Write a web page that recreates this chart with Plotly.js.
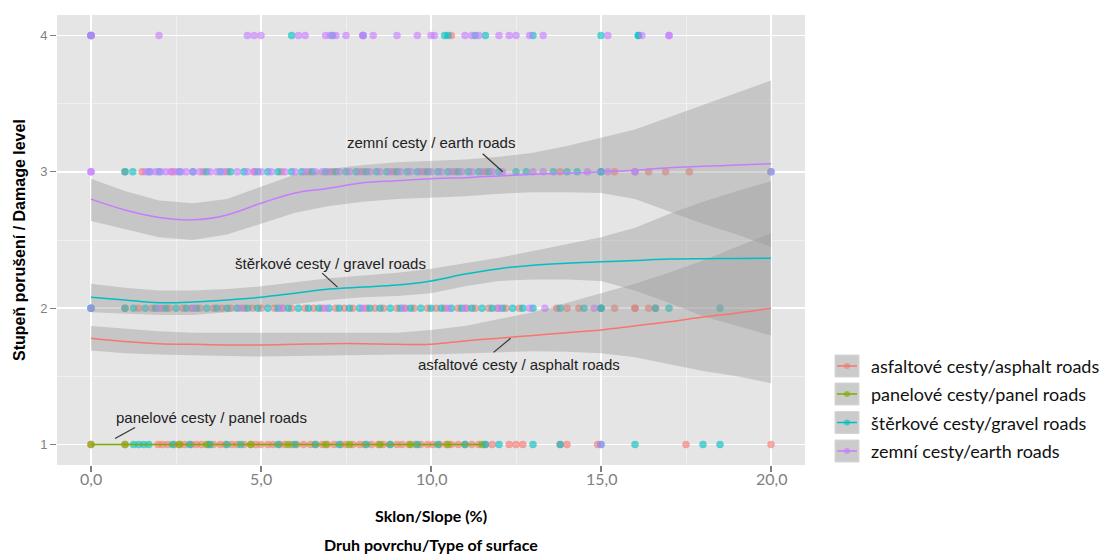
<!DOCTYPE html>
<html>
<head>
<meta charset="utf-8">
<script src="https://cdn.plot.ly/plotly-3.0.1.min.js"></script>
<style>html,body{margin:0;padding:0;background:#fff;}#chart{width:1102px;height:554px;}</style>
</head>
<body>
<div id="chart"></div>
<script>
// ---------- DATA ----------
var seriesNames = ["asfaltové cesty/asphalt roads", "panelové cesty/panel roads", "štěrkové cesty/gravel roads", "zemní cesty/earth roads"];
var seriesColors = ["#F8766D", "#7CAE00", "#00BFC4", "#C77CFF"];

var xTickVals = [0, 5, 10, 15, 20];
var xTickText = ["0,0", "5,0", "10,0", "15,0", "20,0"];
var yTickVals = [1, 2, 3, 4];
var yTickText = ["1", "2", "3", "4"];

// observed points: slope values (x) at each damage level
var asphaltL1 = [0, 1.0, 1.97, 2.1, 2.25, 2.45, 2.6, 2.75, 2.95, 3.1, 3.25, 3.45, 3.6, 3.8, 3.95, 4.15, 4.3, 4.5, 4.7, 4.85, 5.0, 5.2, 5.35, 5.55, 5.7, 5.9, 6.05, 6.25, 6.45, 6.6, 6.8, 6.95, 7.15, 7.35, 7.5, 7.7, 7.9, 8.05, 8.25, 8.45, 8.6, 8.8, 9.0, 9.15, 9.35, 9.55, 9.7, 9.9, 10.05, 10.25, 10.45, 10.6, 10.8, 11.0, 11.2, 11.4, 11.6, 11.8, 12.3, 12.5, 12.7, 13.8, 14.0, 14.9, 17.5, 20];
var asphaltL2 = [1.0, 1.4, 1.8, 2.1, 2.3, 2.7, 2.95, 3.2, 3.6, 3.85, 4.1, 4.5, 4.75, 5.0, 5.4, 5.65, 5.9, 6.3, 6.55, 6.8, 7.2, 7.45, 7.7, 8.1, 8.35, 8.6, 9.0, 9.25, 9.5, 9.9, 10.15, 10.4, 10.8, 11.05, 11.3, 11.7, 11.95, 12.2, 12.6, 13.7, 14.0, 14.35, 15.0, 15.4, 16.0, 16.0, 16.4, 16.6];
var asphaltL3 = [1.0, 1.5, 2.4, 3.3, 4.0, 4.8, 5.6, 6.4, 7.1, 8.0, 8.9, 9.8, 10.7, 11.6, 13.8, 15.4, 16.4, 16.9, 17.6];
var asphaltL4 = [10.6];

var panelL1 = [0, 1.0, 2.6, 3.4, 4.7, 5.8, 6.9, 7.6, 8.5, 9.4, 10.5, 11.5];

var gravelL1 = [1.25, 1.4, 1.55, 1.7, 2.4, 2.9, 3.5, 4.0, 4.4, 5.5, 6.0, 6.6, 7.3, 8.1, 8.8, 9.6, 10.2, 11.0, 11.6, 12.0, 13.0, 13.8, 15.0, 16.0, 18.0, 18.5];
var gravelL2 = [0, 0, 1.0, 1.25, 1.6, 1.9, 2.2, 2.5, 2.8, 3.1, 3.4, 3.7, 4.0, 4.3, 4.6, 4.9, 5.2, 5.5, 5.8, 6.1, 6.4, 6.7, 7.0, 7.3, 7.6, 7.9, 8.2, 8.5, 8.8, 9.1, 9.4, 9.7, 10.0, 10.3, 10.6, 10.9, 11.2, 11.5, 11.8, 12.1, 12.4, 12.7, 13.0, 13.8, 14.5, 15.0, 15.0, 16.6, 17.0, 18.5];
var gravelL3 = [1.0, 1.23, 1.7, 2.0, 2.6, 3.0, 3.4, 3.8, 4.1, 4.5, 4.9, 5.2, 5.5, 5.9, 6.2, 6.5, 6.9, 7.2, 7.5, 7.8, 8.1, 8.4, 8.7, 9.0, 9.3, 9.6, 9.9, 10.2, 10.5, 10.8, 11.1, 11.4, 11.7, 12.0, 12.5, 12.8, 13.6, 14.0, 14.3, 15.0, 15.0, 20];
var gravelL4 = [0, 0, 5.9, 7.1, 8.0, 10.4, 10.5, 11.3, 11.6, 13.0, 15.0, 16.1, 16.1];

var earthL1 = [15.0];
var earthL2 = [0, 2.0, 3.0, 4.4, 5.6, 6.9, 8.0, 9.2, 10.5, 11.0, 12.0, 12.9, 13.35, 14.8];
var earthL3 = [0, 0, 1.6, 1.75, 1.9, 2.05, 2.2, 2.35, 2.5, 2.65, 2.8, 3.0, 3.2, 3.5, 3.7, 3.9, 4.3, 4.6, 4.8, 5.0, 5.3, 5.7, 6.0, 6.3, 6.6, 6.8, 7.0, 7.3, 7.6, 7.9, 8.2, 8.5, 8.8, 9.1, 9.4, 9.7, 10.0, 10.3, 10.6, 10.9, 11.2, 11.5, 11.8, 12.1, 13.0, 13.3, 14.6, 15.2, 16.0, 16.0, 20];
var earthL4 = [0, 0, 2.0, 4.6, 4.8, 5.0, 6.1, 6.3, 6.9, 7.04, 7.2, 7.5, 8.0, 8.0, 8.3, 9.0, 9.6, 10.0, 10.1, 11.0, 11.2, 11.4, 12.0, 12.3, 12.5, 12.9, 13.3, 15.2, 16.2, 17.0, 17.0];

// smoothed fits (loess) with confidence bands
var smoothX = [0, 1, 2, 3, 4, 5, 6, 7, 8, 9, 10, 11, 12, 13, 14, 15, 16, 17, 18, 19, 20];
var asphaltFit = [1.78, 1.755, 1.74, 1.735, 1.73, 1.73, 1.735, 1.74, 1.74, 1.735, 1.735, 1.76, 1.78, 1.80, 1.82, 1.84, 1.87, 1.90, 1.935, 1.965, 2.0];
var asphaltUpper = [1.87, 1.85, 1.83, 1.82, 1.82, 1.82, 1.82, 1.82, 1.82, 1.82, 1.84, 1.87, 1.92, 1.97, 2.04, 2.11, 2.18, 2.26, 2.35, 2.45, 2.55];
var asphaltLower = [1.69, 1.67, 1.66, 1.655, 1.65, 1.645, 1.65, 1.655, 1.66, 1.66, 1.66, 1.67, 1.68, 1.685, 1.68, 1.67, 1.64, 1.59, 1.54, 1.50, 1.45];

var gravelFit = [2.08, 2.06, 2.04, 2.045, 2.06, 2.08, 2.11, 2.14, 2.155, 2.17, 2.20, 2.25, 2.29, 2.315, 2.33, 2.34, 2.35, 2.36, 2.363, 2.365, 2.367];
var gravelUpper = [2.18, 2.15, 2.13, 2.13, 2.14, 2.16, 2.19, 2.22, 2.24, 2.26, 2.29, 2.33, 2.37, 2.42, 2.47, 2.52, 2.59, 2.69, 2.78, 2.86, 2.93];
var gravelLower = [1.97, 1.96, 1.95, 1.95, 1.97, 2.0, 2.03, 2.06, 2.08, 2.09, 2.11, 2.16, 2.20, 2.21, 2.21, 2.20, 2.13, 2.04, 1.94, 1.87, 1.80];

var earthFit = [2.80, 2.72, 2.665, 2.648, 2.684, 2.77, 2.845, 2.88, 2.92, 2.935, 2.95, 2.957, 2.97, 2.982, 2.99, 3.0, 3.012, 3.03, 3.04, 3.05, 3.06];
var earthUpper = [2.95, 2.86, 2.79, 2.77, 2.80, 2.89, 2.98, 3.02, 3.05, 3.07, 3.08, 3.09, 3.11, 3.14, 3.19, 3.25, 3.31, 3.40, 3.49, 3.58, 3.67];
var earthLower = [2.64, 2.58, 2.52, 2.50, 2.54, 2.62, 2.70, 2.75, 2.78, 2.80, 2.81, 2.82, 2.84, 2.85, 2.85, 2.845, 2.80, 2.71, 2.62, 2.54, 2.45];

var panelFitX = [0, 11.5];
var panelFitY = [1, 1];

// ---------- BUILD ----------
function levels(arrs) {
  var xs = [], ys = [];
  arrs.forEach(function (a, i) { a.forEach(function (v) { xs.push(v); ys.push(i + 1); }); });
  return {x: xs, y: ys};
}
var pts = [
  levels([asphaltL1, asphaltL2, asphaltL3, asphaltL4]),
  levels([panelL1, [], [], []]),
  levels([gravelL1, gravelL2, gravelL3, gravelL4]),
  levels([earthL1, earthL2, earthL3, earthL4])
];

var traces = [];
pts.forEach(function (p, i) {
  traces.push({type: "scatter", mode: "markers", x: p.x, y: p.y, showlegend: false, hoverinfo: "skip",
    marker: {size: 7.5, color: seriesColors[i], opacity: 0.62, line: {width: 0}}});
});
var bands = [[asphaltUpper, asphaltLower], [gravelUpper, gravelLower], [earthUpper, earthLower]];
bands.forEach(function (b) {
  traces.push({type: "scatter", mode: "lines", x: smoothX, y: b[0], line: {width: 0, color: "rgba(0,0,0,0)"}, showlegend: false, hoverinfo: "skip"});
  traces.push({type: "scatter", mode: "lines", x: smoothX, y: b[1], fill: "tonexty", fillcolor: "rgba(153,153,153,0.4)", line: {width: 0, color: "rgba(0,0,0,0)"}, showlegend: false, hoverinfo: "skip"});
});
var fits = [[smoothX, asphaltFit, 0], [panelFitX, panelFitY, 1], [smoothX, gravelFit, 2], [smoothX, earthFit, 3]];
fits.forEach(function (f) {
  traces.push({type: "scatter", mode: "lines", x: f[0], y: f[1], line: {color: seriesColors[f[2]], width: 1.5, shape: "spline"}, showlegend: false, hoverinfo: "skip", name: seriesNames[f[2]]});
});

// pixel -> paper helpers
var ML = 57, MR = 297, MT = 15, MB = 89, W = 1102, H = 554;
var PW = W - ML - MR, PH = H - MT - MB;
function px(x) { return (x - ML) / PW; }
function py(y) { return 1 - (y - MT) / PH; }

var shapes = [];
var annotations = [];
var annFont = {family: "Liberation Sans, Arial, sans-serif", size: 15, color: "#222"};
function label(text, x, y, lx0, ly0, lx1, ly1) {
  annotations.push({x: x, y: y, xref: "x", yref: "y", text: text, showarrow: false, font: annFont, xanchor: "center", yanchor: "middle"});
  shapes.push({type: "line", xref: "x", yref: "y", x0: lx0, y0: ly0, x1: lx1, y1: ly1, line: {color: "#333", width: 1.2}, layer: "above"});
}
label("zemní cesty / earth roads", 9.99, 3.213, 11.52, 3.132, 12.11, 3.0);
label("štěrkové cesty / gravel roads", 7.04, 2.33, 6.80, 2.257, 7.25, 2.154);
label("asfaltové cesty / asphalt roads", 12.6, 1.588, 11.84, 1.676, 12.34, 1.779);
label("panelové cesty / panel roads", 3.53, 1.20, 0.707, 1.044, 1.296, 1.125);

// x tick labels (comma decimals) drawn just under the tick marks
xTickVals.forEach(function (v, i) {
  annotations.push({x: v, y: py(478), xref: "x", yref: "paper", text: xTickText[i], showarrow: false, xanchor: "center", yanchor: "middle",
    font: {family: "Lato, Carlito, sans-serif", size: 16, color: "#7F7F7F"}});
});

// manual ggplot-style legend
var legendY = [366, 394, 422.5, 451];
seriesNames.forEach(function (n, i) {
  var cy = legendY[i];
  shapes.push({type: "rect", xref: "paper", yref: "paper", x0: px(835), x1: px(859), y0: py(cy + 11), y1: py(cy - 11), fillcolor: "#CBCBCB", line: {width: 1, color: "#D6D6D6"}, layer: "above"});
  shapes.push({type: "line", xref: "paper", yref: "paper", x0: px(837), x1: px(857), y0: py(cy), y1: py(cy), line: {color: seriesColors[i], width: 1.5}, layer: "above"});
  shapes.push({type: "circle", xref: "paper", yref: "paper", xsizemode: "pixel", ysizemode: "pixel", xanchor: px(847), yanchor: py(cy), x0: -3, x1: 3, y0: -3, y1: 3, fillcolor: seriesColors[i], opacity: 0.6, line: {width: 0}, layer: "above"});
  annotations.push({xref: "paper", yref: "paper", x: px(869), y: py(cy), xanchor: "left", yanchor: "middle", text: n, showarrow: false,
    font: {family: "Lato, Carlito, sans-serif", size: 18, color: "#111"}});
});

// axis titles
annotations.push({xref: "paper", yref: "paper", x: 0.5, y: py(515), xanchor: "center", yanchor: "middle", showarrow: false, text: "<b>Sklon/Slope (%)</b>", font: {family: "Lato, Carlito, sans-serif", size: 16, color: "#000"}});
annotations.push({xref: "paper", yref: "paper", x: 0.5, y: py(544), xanchor: "center", yanchor: "middle", showarrow: false, text: "<b>Druh povrchu/Type of surface</b>", font: {family: "Lato, Carlito, sans-serif", size: 16, color: "#000"}});
annotations.push({xref: "paper", yref: "paper", x: px(19), y: 0.5, xanchor: "center", yanchor: "middle", showarrow: false, textangle: -90, text: "<b>Stupeň porušení / Damage level</b>", font: {family: "Liberation Sans, Arial, sans-serif", size: 16, color: "#000"}});

var layout = {
  width: W, height: H,
  margin: {l: ML, r: MR, t: MT, b: MB, pad: 0},
  paper_bgcolor: "#FFFFFF", plot_bgcolor: "#E5E5E5",
  showlegend: false,
  xaxis: {range: [-1, 21], tickmode: "array", tickvals: xTickVals, ticktext: xTickText, showticklabels: false, showgrid: true, gridcolor: "#FFFFFF", gridwidth: 1.6,
    zeroline: false, showline: false, ticks: "outside", ticklen: 6, tickwidth: 1.3, tickcolor: "#7F7F7F",
    minor: {tickmode: "array", tickvals: [2.5, 7.5, 12.5, 17.5], showgrid: true, gridcolor: "#F2F2F2", gridwidth: 0.8, ticks: ""}, fixedrange: true},
  yaxis: {range: [0.85, 4.15], tickmode: "array", tickvals: yTickVals, ticktext: yTickText, showgrid: true, gridcolor: "#FFFFFF", gridwidth: 1.6,
    zeroline: false, showline: false, ticks: "outside", ticklen: 6, tickwidth: 1.3, tickcolor: "#7F7F7F",
    tickfont: {family: "Liberation Sans, Arial, sans-serif", size: 13, color: "#7F7F7F"},
    minor: {tickmode: "array", tickvals: [1.5, 2.5, 3.5], showgrid: true, gridcolor: "#F2F2F2", gridwidth: 0.8, ticks: ""}, fixedrange: true},
  shapes: shapes,
  annotations: annotations
};

Plotly.newPlot("chart", traces, layout, {staticPlot: true, displayModeBar: false});
</script>
</body>
</html>
